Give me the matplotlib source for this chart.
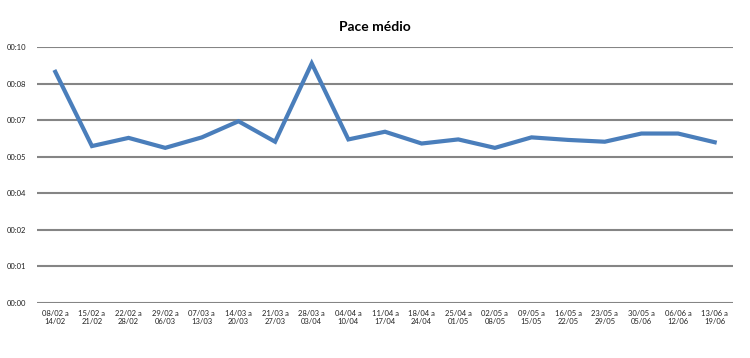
import matplotlib
matplotlib.use('Agg')
import matplotlib.pyplot as plt
from matplotlib.ticker import FuncFormatter
import numpy as np

plt.rcParams['font.family'] = ['Lato', 'DejaVu Sans']

# week start / end dates
inicio = ['08/02', '15/02', '22/02', '29/02', '07/03', '14/03', '21/03', '28/03', '04/04', '11/04',
          '18/04', '25/04', '02/05', '09/05', '16/05', '23/05', '30/05', '06/06', '13/06']
fim = ['14/02', '21/02', '28/02', '06/03', '13/03', '20/03', '27/03', '03/04', '10/04', '17/04',
       '24/04', '01/05', '08/05', '15/05', '22/05', '29/05', '05/06', '12/06', '19/06']

# pace in minutes per km
pace = [9.03, 6.13, 6.45, 6.06, 6.47, 7.10, 6.30, 9.36, 6.39, 6.69,
        6.23, 6.39, 6.06, 6.47, 6.37, 6.30, 6.62, 6.62, 6.28]

labels = [f'{a} a\n{b}' for a, b in zip(inicio, fim)]

fig = plt.figure(figsize=(7.5, 3.58), dpi=100)
ax = fig.add_axes([37/750, 1 - 303/358, 696/750, 256/358])

x = np.arange(len(pace))
ax.plot(x, pace, color='#4a7ebb', linewidth=3, solid_joinstyle='miter', zorder=3)

ax.set_xlim(-0.5, len(pace) - 0.5)
ax.set_ylim(0, 10)
ax.set_yticks(np.linspace(0, 10, 8))
ax.yaxis.set_major_formatter(FuncFormatter(lambda v, p: '00:%02d' % int(v + 1e-9)))
ax.set_xticks(x)
ax.set_xticklabels(labels, fontsize=5.5, color='#222222')
ax.tick_params(axis='y', labelsize=5.5, labelcolor='#222222', length=0, pad=8)
ax.tick_params(axis='x', length=0, pad=5)

ax.grid(axis='y', color='#858585', linewidth=1.5)
ax.set_axisbelow(True)
for s in ax.spines.values():
    s.set_visible(False)

fig.text(0.5, 1 - 27/358, 'Pace médio', ha='center', va='center',
         fontsize=10, fontweight='bold')

fig.savefig('out.png', dpi=100)
